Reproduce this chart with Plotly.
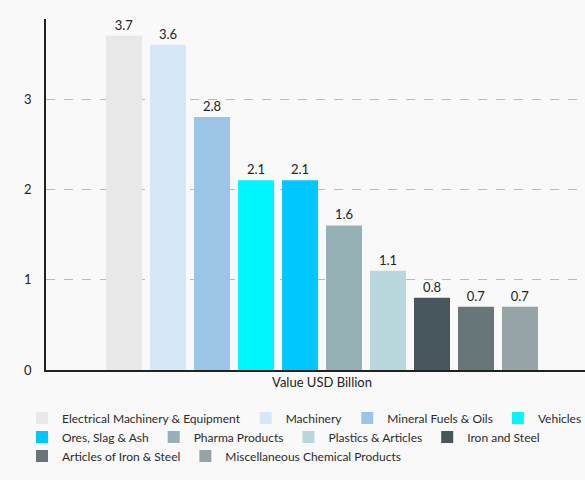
import plotly.graph_objects as go

# one category, one bar per product group
category = ["Value USD Billion"]
products = [
    "Electrical Machinery & Equipment",
    "Machinery",
    "Mineral Fuels & Oils",
    "Vehicles",
    "Ores, Slag & Ash",
    "Pharma Products",
    "Plastics & Articles",
    "Iron and Steel",
    "Articles of Iron & Steel",
    "Miscellaneous Chemical Products",
]
values = [3.7, 3.6, 2.8, 2.1, 2.1, 1.6, 1.1, 0.8, 0.7, 0.7]
colors = [
    "#e8e8e8", "#d6e7f7", "#9cc4e6", "#00f7ff", "#00c8ff",
    "#95b1b5", "#b8d8de", "#47575d", "#677779", "#97a4a7",
]
# legend row each product sits in (the reference wraps into 3 rows)
legend_rows = ["legend", "legend", "legend", "legend",
               "legend2", "legend2", "legend2", "legend2",
               "legend3", "legend3"]
y_ticks = [0, 1, 2, 3]

fig = go.Figure()

for name, val, col, leg in zip(products, values, colors, legend_rows):
    fig.add_trace(
        go.Bar(x=category,
               y=[val],
               name=name,
               legend=leg,
               marker=dict(color=col, line=dict(width=0)),
               text=[f"{val:.1f}"],
               textposition="outside",
               cliponaxis=False,
               textfont=dict(size=13, color="#222222")))

# one horizontal legend per row so items flow with their own widths;
# sitting left of / below the plot lets a row use the full figure width
legend_style = dict(orientation="h",
                    x=-0.0445, xanchor="left",
                    yanchor="middle",
                    bgcolor="rgba(0,0,0,0)",
                    font=dict(size=12, color="#2b2b2b"),
                    itemwidth=30)

fig.update_layout(
    width=585,
    height=480,
    margin=dict(l=46, r=0, t=19, b=110, autoexpand=False),
    paper_bgcolor="#f9f9f9",
    plot_bgcolor="#f9f9f9",
    font=dict(family="Lato", size=13, color="#222222"),
    barmode="group",
    bargap=0.203,
    bargroupgap=0.182,
    showlegend=True,
    legend=dict(legend_style, y=-0.1368),
    legend2=dict(legend_style, y=-0.1909),
    legend3=dict(legend_style, y=-0.245),
)

fig.update_xaxes(
    range=[-0.5, 0.4764],
    showline=True, linecolor="#222222", linewidth=1.5,
    showgrid=False, ticks="",
    tickfont=dict(size=13, color="#222222"),
)

fig.update_yaxes(
    range=[0, 3.886],
    tickvals=y_ticks,
    showline=True, linecolor="#222222", linewidth=1.5,
    showgrid=True, gridcolor="#bbbbbb", griddash="dash", gridwidth=1,
    zeroline=False,
    ticks="", ticklabelstandoff=10,
    tickfont=dict(size=13, color="#222222"),
)

# drop the page's default body margin so the figure sits at the window corner
fig.write_html("out.html",
               config={"displayModeBar": False},
               post_script="document.body.style.margin='0';")
